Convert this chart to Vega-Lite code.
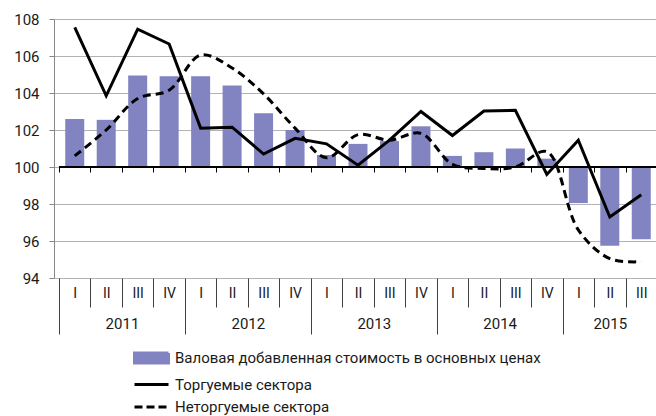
{
  "$schema": "https://vega.github.io/schema/vega-lite/v6.json",
  "width": 608,
  "height": 259,
  "autosize": {"type": "none"},
  "padding": {"left": 54, "top": 19, "right": 0, "bottom": 138},
  "background": "white",
  "config": {
    "view": {"stroke": null},
    "font": "Roboto",
    "axis": {"labelFont": "Roboto", "labelColor": "#1a1a1a", "grid": false, "labelOverlap": false, "labelFlush": false}
  },
  "data": {
    "values": [
      {"t": 0, "year": 2011, "q": "I", "gva": 102.6, "traded": 107.55, "nontraded": 100.6},
      {"t": 1, "year": 2011, "q": "II", "gva": 102.55, "traded": 103.85, "nontraded": 102.0},
      {"t": 2, "year": 2011, "q": "III", "gva": 104.95, "traded": 107.45, "nontraded": 103.7},
      {"t": 3, "year": 2011, "q": "IV", "gva": 104.9, "traded": 106.65, "nontraded": 104.15},
      {"t": 4, "year": 2012, "q": "I", "gva": 104.9, "traded": 102.1, "nontraded": 106.05},
      {"t": 5, "year": 2012, "q": "II", "gva": 104.4, "traded": 102.15, "nontraded": 105.35},
      {"t": 6, "year": 2012, "q": "III", "gva": 102.9, "traded": 100.7, "nontraded": 103.95},
      {"t": 7, "year": 2012, "q": "IV", "gva": 102.0, "traded": 101.55, "nontraded": 102.1},
      {"t": 8, "year": 2013, "q": "I", "gva": 100.65, "traded": 101.25, "nontraded": 100.5},
      {"t": 9, "year": 2013, "q": "II", "gva": 101.25, "traded": 100.1, "nontraded": 101.75},
      {"t": 10, "year": 2013, "q": "III", "gva": 101.4, "traded": 101.45, "nontraded": 101.45},
      {"t": 11, "year": 2013, "q": "IV", "gva": 102.2, "traded": 103.0, "nontraded": 101.82},
      {"t": 12, "year": 2014, "q": "I", "gva": 100.6, "traded": 101.7, "nontraded": 100.15},
      {"t": 13, "year": 2014, "q": "II", "gva": 100.8, "traded": 103.03, "nontraded": 99.92},
      {"t": 14, "year": 2014, "q": "III", "gva": 101.0, "traded": 103.06, "nontraded": 100.0},
      {"t": 15, "year": 2014, "q": "IV", "gva": 100.45, "traded": 99.6, "nontraded": 100.83},
      {"t": 16, "year": 2015, "q": "I", "gva": 98.05, "traded": 101.45, "nontraded": 96.6},
      {"t": 17, "year": 2015, "q": "II", "gva": 95.75, "traded": 97.3, "nontraded": 95.05},
      {"t": 18, "year": 2015, "q": "III", "gva": 96.1, "traded": 98.5, "nontraded": 94.88}
    ]
  },
  "layer": [
    {
      "mark": {"type": "bar", "width": 19},
      "encoding": {
        "x": {
          "field": "t", "type": "quantitative", "title": null,
          "scale": {"domain": [-0.5, 18.5], "nice": false, "zero": false},
          "axis": {
            "orient": "bottom",
            "values": [-0.5, 0.5, 1.5, 2.5, 3.5, 4.5, 5.5, 6.5, 7.5, 8.5, 9.5, 10.5, 11.5, 12.5, 13.5, 14.5, 15.5, 16.5, 17.5, 18.5],
            "labels": false, "domain": false, "grid": false,
            "tickColor": "#404040", "tickWidth": 1,
            "tickSize": {"condition": {"test": "(datum.value + 0.5) % 4 === 0", "value": 56}, "value": 29}
          }
        },
        "y": {
          "field": "gva", "type": "quantitative", "title": null,
          "scale": {"domain": [94, 108], "nice": false, "zero": false},
          "axis": {"values": [94, 96, 98, 100, 102, 104, 106, 108], "grid": true, "gridColor": "#b3b3b3", "domainColor": "#868686", "tickColor": "#868686", "tickSize": 5, "labelPadding": 10, "labelFontSize": 15}
        },
        "y2": {"datum": 100},
        "color": {
          "datum": "Валовая добавленная стоимость в основных ценах", "type": "nominal",
          "scale": {"domain": ["Валовая добавленная стоимость в основных ценах", "Торгуемые сектора", "Неторгуемые сектора"], "range": ["#8184c1", "#000000", "#000000"]},
          "legend": {
            "orient": "none", "legendX": 87.5, "legendY": 329, "direction": "vertical", "title": null,
            "symbolSize": 289, "rowPadding": 4.5, "labelOffset": 13.5,
            "labelFont": "Roboto", "labelFontSize": 15, "labelColor": "#1a1a1a", "labelLimit": 600,
            "encode": {
              "symbols": {
                "update": {
                  "shape": {"signal": "datum.index === 0 ? 'M-2,-0.6H2V0.6H-2Z' : 'M-2,0H2'"},
                  "fill": {"signal": "datum.index === 0 ? '#8184c1' : 'transparent'"},
                  "stroke": {"signal": "datum.index === 0 ? 'transparent' : '#000000'"},
                  "strokeWidth": {"value": 3},
                  "strokeDash": {"signal": "datum.index === 2 ? [8, 4] : [1, 0]"},
                  "opacity": {"value": 1}
                }
              }
            }
          }
        }
      }
    },
    {
      "mark": {"type": "line", "strokeWidth": 3},
      "encoding": {
        "x": {
          "field": "t", "type": "quantitative", "title": null,
          "axis": {
            "orient": "bottom", "values": [0, 1, 2, 3, 4, 5, 6, 7, 8, 9, 10, 11, 12, 13, 14, 15, 16, 17, 18],
            "labelExpr": "['I','II','III','IV'][datum.value % 4]",
            "ticks": false, "tickSize": 0, "domain": false, "grid": false,
            "labelPadding": 8, "labelFontSize": 14
          }
        },
        "y": {
          "field": "traded", "type": "quantitative", "title": null,
          "axis": {"values": [94, 96, 98, 100, 102, 104, 106, 108], "grid": true, "gridColor": "#b3b3b3", "domainColor": "#868686", "tickColor": "#868686", "tickSize": 5, "labelPadding": 10, "labelFontSize": 15}
        },
        "color": {"datum": "Торгуемые сектора", "type": "nominal"}
      }
    },
    {
      "mark": {"type": "line", "strokeWidth": 3, "strokeDash": [8, 5], "interpolate": "catmull-rom"},
      "encoding": {
        "x": {
          "field": "t", "type": "quantitative", "title": null,
          "axis": {
            "orient": "bottom", "values": [1.5, 5.5, 9.5, 13.5, 17],
            "labelExpr": "'' + (2011 + floor(datum.value / 4))",
            "ticks": false, "tickSize": 0, "domain": false, "grid": false,
            "labelPadding": 38, "labelFontSize": 15
          }
        },
        "y": {
          "field": "nontraded", "type": "quantitative", "title": null,
          "axis": {"values": [94, 96, 98, 100, 102, 104, 106, 108], "grid": true, "gridColor": "#b3b3b3", "domainColor": "#868686", "tickColor": "#868686", "tickSize": 5, "labelPadding": 10, "labelFontSize": 15}
        },
        "color": {"datum": "Неторгуемые сектора", "type": "nominal"}
      }
    },
    {
      "mark": {"type": "rule", "color": "#000000", "strokeWidth": 1},
      "encoding": {
        "x": {
          "datum": -0.5, "type": "quantitative",
          "axis": {
            "orient": "bottom", "offset": -111,
            "values": [-0.5, 0.5, 1.5, 2.5, 3.5, 4.5, 5.5, 6.5, 7.5, 8.5, 9.5, 10.5, 11.5, 12.5, 13.5, 14.5, 15.5, 16.5, 17.5, 18.5],
            "labels": false, "domain": false, "grid": false,
            "tickColor": "#000000", "tickSize": 5
          }
        },
        "x2": {"datum": 18.5},
        "y": {
          "datum": 100, "type": "quantitative",
          "axis": {"values": [94, 96, 98, 100, 102, 104, 106, 108], "grid": true, "gridColor": "#b3b3b3", "domainColor": "#868686", "tickColor": "#868686", "tickSize": 5, "labelPadding": 10, "labelFontSize": 15}
        }
      }
    }
  ],
  "resolve": {"axis": {"x": "independent"}}
}
